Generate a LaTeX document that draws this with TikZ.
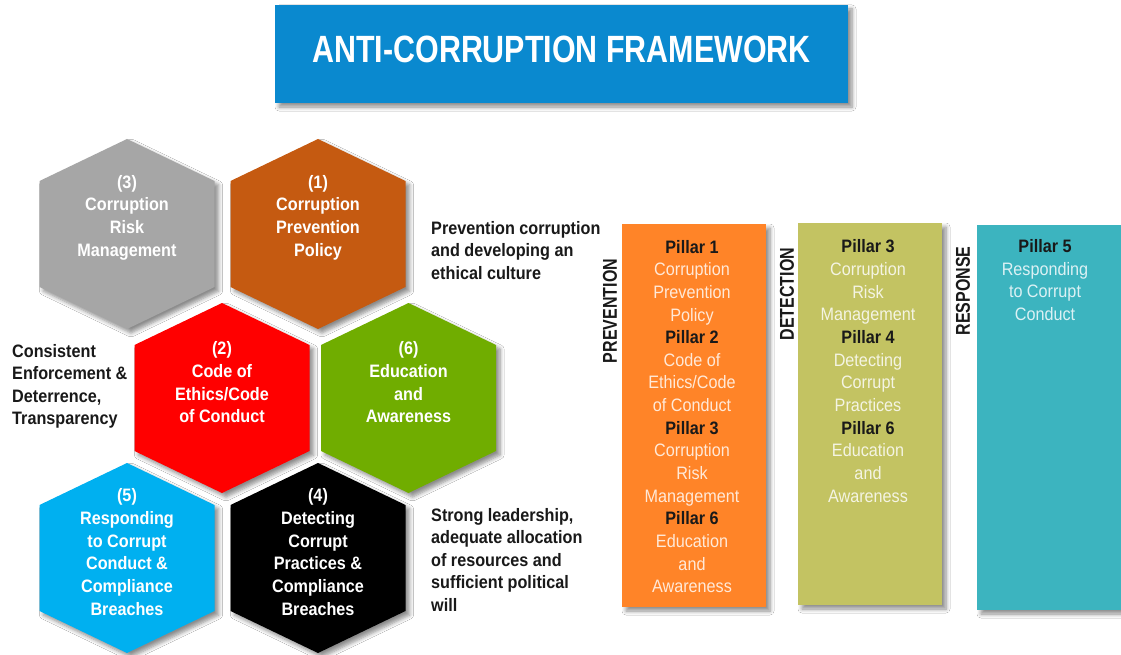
\documentclass[tikz,border=0pt]{standalone}
\usepackage{fontspec}
\setmainfont{Liberation Sans}
\newfontfamily\hexfont[FakeStretch=0.9]{Liberation Sans}
\newfontfamily\condfont[FakeStretch=0.8]{Liberation Sans}
\usetikzlibrary{shadows.blur}
\definecolor{titleblue}{RGB}{10,137,207}
\definecolor{hexgray}{RGB}{166,166,166}
\definecolor{hexbrown}{RGB}{197,90,17}
\definecolor{hexred}{RGB}{255,0,0}
\definecolor{hexgreen}{RGB}{112,173,0}
\definecolor{hexblue}{RGB}{0,176,240}
\definecolor{hexblack}{RGB}{0,0,0}
\definecolor{boxorange}{RGB}{255,132,40}
\definecolor{boxolive}{RGB}{195,195,98}
\definecolor{boxteal}{RGB}{60,180,191}
\definecolor{darktext}{RGB}{25,25,25}
\newcommand\pillarhead[1]{{\color{darktext}\bfseries #1}}
\tikzset{
  shadowed/.style={blur shadow={shadow xshift=4pt, shadow yshift=-4pt, shadow blur steps=6, shadow blur radius=4pt, shadow opacity=45}},
  pics/hexa/.style={code={
    \fill[fill=#1, shadowed] (-87.5,-53) -- (0,-95) -- (87.5,-53) -- (87.5,53) -- (0,95) -- (-87.5,53) -- cycle;
  }},
  hextext/.style={text=white, font=\hexfont\bfseries\fontsize{18}{22.7}\selectfont, align=center, inner sep=0pt},
  sidetext/.style={text=darktext, font=\hexfont\bfseries\fontsize{18}{22.5}\selectfont, align=left, inner sep=0pt, anchor=west},
  titlebox/.style={fill=titleblue, minimum width=573pt, minimum height=98pt, inner sep=0pt, shadowed},
  titletext/.style={text=white, font=\condfont\bfseries\fontsize{38}{44}\selectfont, inner sep=0pt},
  pillarbox/.style={fill=#1, minimum width=144pt, inner sep=0pt, shadowed},
  pillartext/.style={text=white!82!#1, font=\hexfont\fontsize{18}{22.65}\selectfont, align=center, inner sep=0pt},
  rotlabel/.style={text=darktext, font=\condfont\bfseries\fontsize{20}{24}\selectfont, inner sep=0pt, rotate=90},
}
\begin{document}
\begin{tikzpicture}[x=1pt,y=-1pt]
\fill[white] (0,0) rectangle (1121,655);
\useasboundingbox (0,0) rectangle (1121,655);

% title
\node[titlebox] (title) at (561.5,54) {};
\node[titletext] (titletxt) at (561.5,49) {ANTI-CORRUPTION FRAMEWORK};

% hexagons
\pic at (127,234) {hexa=hexgray};
\pic at (318,234) {hexa=hexbrown};
\pic at (222,398) {hexa=hexred};
\pic at (408.5,398) {hexa=hexgreen};
\pic at (127,558) {hexa=hexblue};
\pic at (318,558) {hexa=hexblack};

\node[hextext] (h3) at (127,217.5) {(3)\\Corruption\\Risk\\Management};
\node[hextext] (h1) at (318,217.5) {(1)\\Corruption\\Prevention\\Policy};
\node[hextext] (h2) at (222,382.5) {(2)\\Code of\\Ethics/Code\\of Conduct};
\node[hextext] (h6) at (408.5,382.5) {(6)\\Education\\and\\Awareness};
\node[hextext] (h5) at (127,552) {(5)\\Responding\\to Corrupt\\Conduct \&\\Compliance\\Breaches};
\node[hextext] (h4) at (318,552) {(4)\\Detecting\\Corrupt\\Practices \&\\Compliance\\Breaches};

% side texts
\node[sidetext] (t1) at (431,250.5) {Prevention corruption\\and developing an\\ethical culture};
\node[sidetext] (t2) at (12,386.5) {Consistent\\Enforcement \&\\Deterrence,\\Transparency};
\node[sidetext] (t3) at (431,559.5) {Strong leadership,\\adequate allocation\\of resources and\\sufficient political\\will};

% pillar boxes
\node[pillarbox=boxorange, minimum height=383pt] (prevbox) at (694,415.5) {};
\node[pillarbox=boxolive, minimum height=382pt] (detbox) at (870,414) {};
\node[pillarbox=boxteal, minimum width=153pt, minimum height=385pt] (resbox) at (1053.5,417.5) {};

\node[pillartext=boxorange] (prevtxt) at (692,416.5) {\pillarhead{Pillar 1}\\Corruption\\Prevention\\Policy\\\pillarhead{Pillar 2}\\Code of\\Ethics/Code\\of Conduct\\\pillarhead{Pillar 3}\\Corruption\\Risk\\Management\\\pillarhead{Pillar 6}\\Education\\and\\Awareness};
\node[pillartext=boxolive] (dettxt) at (868,371) {\pillarhead{Pillar 3}\\Corruption\\Risk\\Management\\\pillarhead{Pillar 4}\\Detecting\\Corrupt\\Practices\\\pillarhead{Pillar 6}\\Education\\and\\Awareness};
\node[pillartext=boxteal] (restxt) at (1045,280) {\pillarhead{Pillar 5}\\Responding\\to Corrupt\\Conduct};

% rotated labels
\node[rotlabel] (prevlbl) at (610,311) {PREVENTION};
\node[rotlabel] (detlbl) at (787,294) {DETECTION};
\node[rotlabel] (reslbl) at (963,291) {RESPONSE};
\end{tikzpicture}
\end{document}
